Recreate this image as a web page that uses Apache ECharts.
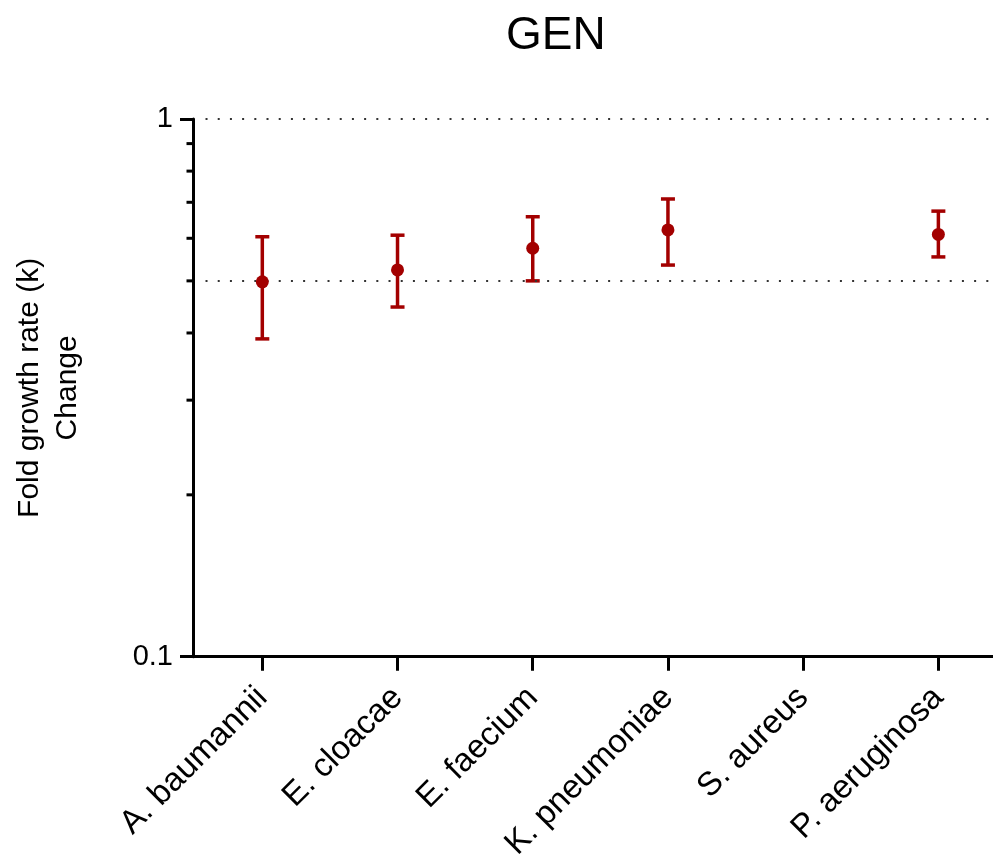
<!DOCTYPE html>
<html><head><meta charset="utf-8">
<script src="https://cdn.jsdelivr.net/npm/echarts@6/dist/echarts.min.js"></script>
<style>html,body{margin:0;padding:0;background:#fff}#c{width:993px;height:859px}</style>
</head><body><div id="c"></div>
<script>
const chartTitle = 'GEN';
const yAxisTitle = 'Fold growth rate (k)\nChange';
const categories = ['A. baumannii', 'E. cloacae', 'E. faecium', 'K. pneumoniae', 'S. aureus', 'P. aeruginosa'];
const means = [0.498, 0.524, 0.575, 0.622, null, 0.610];
const lower = [0.390, 0.447, 0.500, 0.535, null, 0.554];
const upper = [0.604, 0.608, 0.658, 0.710, null, 0.674];
const yMin = 0.1, yMax = 1;
const minorTickValues = [0.2, 0.3, 0.4, 0.5, 0.6, 0.7, 0.8, 0.9];
const refLines = [1, 0.5];

const X_MIN = -0.5126, X_MAX = 5.404;
const FONT = "'Liberation Sans', Arial, sans-serif";
const RED = '#a30000';
const catIdx = categories.map((c, i) => i);

const pointData = [];
const errData = [];
categories.forEach((c, i) => {
  if (means[i] != null) {
    pointData.push([i, means[i]]);
    errData.push([i, lower[i], upper[i]]);
  }
});

const chart = echarts.init(document.getElementById('c'), null, {renderer: 'canvas'});
chart.setOption({
  animation: false,
  backgroundColor: '#fff',
  title: {
    text: chartTitle, left: 501, top: 8,
    textStyle: {fontFamily: FONT, fontSize: 46, fontWeight: 'normal', color: '#000'}
  },
  grid: {left: 193, top: 119, width: 800, height: 537.7, containLabel: false, outerBoundsMode: 'none'},
  xAxis: {
    type: 'value', min: X_MIN, max: X_MAX,
    splitLine: {show: false},
    axisLine: {show: true, onZero: false, lineStyle: {color: '#000', width: 3}},
    axisTick: {show: true, customValues: catIdx, length: 14, lineStyle: {color: '#000', width: 3}},
    axisLabel: {
      customValues: catIdx, formatter: v => categories[Math.round(v)] || '',
      rotate: 45, align: 'right', verticalAlign: 'middle', margin: 36,
      fontFamily: FONT, fontSize: 33, color: '#000'
    }
  },
  yAxis: {
    type: 'log', logBase: 10, min: yMin, max: yMax,
    name: yAxisTitle, nameLocation: 'middle', nameRotate: 90, nameGap: 106,
    nameTextStyle: {fontFamily: FONT, fontSize: 30, color: '#000', lineHeight: 38, align: 'center'},
    splitLine: {show: false},
    axisLine: {show: true, onZero: false, lineStyle: {color: '#000', width: 3}},
    axisTick: {show: true, length: 13, lineStyle: {color: '#000', width: 3}},
    axisLabel: {margin: 20, fontFamily: FONT, fontSize: 29, color: '#000'}
  },
  series: [
    {
      type: 'custom', name: 'minorTicks', clip: false, silent: true, z: 10,
      data: minorTickValues.map(v => [X_MIN, v]),
      renderItem: (params, api) => {
        const p = api.coord([api.value(0), api.value(1)]);
        return {type: 'line', shape: {x1: p[0] - 6.5, y1: p[1], x2: p[0], y2: p[1]},
          style: {stroke: '#000', lineWidth: 3}};
      }
    },
    {
      type: 'custom', name: 'error', silent: true, z: 4,
      data: errData,
      renderItem: (params, api) => {
        const lo = api.coord([api.value(0), api.value(1)]);
        const hi = api.coord([api.value(0), api.value(2)]);
        const hw = 7;
        const st = {stroke: RED, lineWidth: 3.5};
        return {type: 'group', children: [
          {type: 'line', shape: {x1: lo[0], y1: lo[1], x2: hi[0], y2: hi[1]}, style: st},
          {type: 'line', shape: {x1: hi[0] - hw, y1: hi[1], x2: hi[0] + hw, y2: hi[1]}, style: st},
          {type: 'line', shape: {x1: lo[0] - hw, y1: lo[1], x2: lo[0] + hw, y2: lo[1]}, style: st}
        ]};
      }
    },
    {
      type: 'scatter', name: 'mean', z: 5,
      symbol: 'circle', symbolSize: 13,
      itemStyle: {color: RED, opacity: 1},
      data: pointData,
      markLine: {
        silent: true, symbol: ['none', 'none'], label: {show: false},
        lineStyle: {type: [2, 10.2], width: 2, color: '#333'},
        data: refLines.map(v => [{coord: [-0.42, v]}, {coord: [X_MAX, v]}])
      }
    }
  ]
});
</script>
</body></html>
